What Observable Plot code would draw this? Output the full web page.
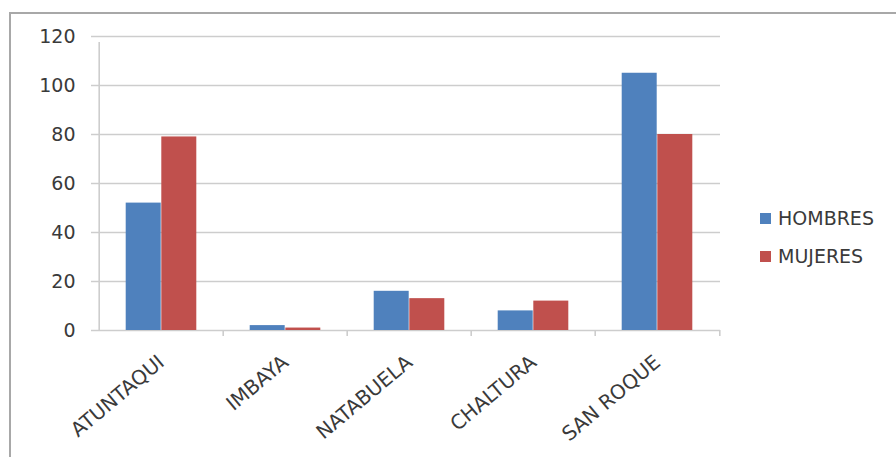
<!DOCTYPE html>
<html>
<head>
<meta charset="utf-8">
<script src="https://cdn.jsdelivr.net/npm/d3@7"></script>
<script src="https://cdn.jsdelivr.net/npm/@observablehq/plot@0.6"></script>
<style>
  body { margin: 0; background: #fff; }
  #wrap { position: relative; width: 896px; height: 457px; overflow: hidden; font-family: "DejaVu Sans", sans-serif; }
  #frame { position: absolute; left: 9px; top: 12px; width: 900px; height: 460px; border-left: 2px solid #a8a8a8; border-top: 2px solid #a8a8a8; }
  #chart { position: absolute; left: 0; top: 0; }
  #chart svg [aria-label^="x-axis"] text, #chart svg [aria-label^="x-axis"] { font-size: 20px; }
  #legend { position: absolute; left: 760px; top: 206px; color: #3a3a3a; font-size: 19px; }
  .item { display: flex; align-items: center; height: 24px; margin-bottom: 14px; }
  .sw { width: 11px; height: 11px; margin-right: 7px; }
</style>
</head>
<body>
<div id="wrap">
  <div id="frame"></div>
  <div id="chart"></div>
  <div id="legend"></div>
</div>
<script>
const categories = ["ATUNTAQUI", "IMBAYA", "NATABUELA", "CHALTURA", "SAN ROQUE"];
const hombres = [52, 2, 16, 8, 105];
const mujeres = [79, 1, 13, 12, 80];
const seriesNames = ["HOMBRES", "MUJERES"];
const seriesColors = ["#4f81bd", "#c0504d"];
const yTicks = [0, 20, 40, 60, 80, 100, 120];

const rows = categories.map((c, i) => ({cat: c, H: hombres[i], M: mujeres[i]}));

const W = 896, H = 457, mL = 97, mR = 176, mT = 36, mB = 127;
const step = (W - mL - mR) / categories.length;
const bw = step / 3.5;          // Excel gap width 150%
const outer = 0.75 * bw;

const gridColor = "#cdcdcd";

const chart = Plot.plot({
  width: W, height: H,
  marginLeft: mL, marginRight: mR, marginTop: mT, marginBottom: mB,
  style: { fontFamily: "DejaVu Sans, sans-serif", fontSize: "19px", color: "#3a3a3a", background: "transparent", overflow: "visible" },
  x: { domain: categories, padding: 0, tickSize: 0, tickPadding: 29, tickRotate: -40, label: null },
  y: { domain: [0, 120], ticks: yTicks, tickSize: 0, tickPadding: 22, label: null },
  marks: [
    Plot.ruleY(yTicks, { y: d => d, stroke: gridColor, strokeWidth: 1.6, insetLeft: -6 }),
    Plot.barY(rows, { x: "cat", y: "H", fill: seriesColors[0], insetLeft: outer, insetRight: step / 2 }),
    Plot.barY(rows, { x: "cat", y: "M", fill: seriesColors[1], insetLeft: step / 2, insetRight: outer }),
    Plot.ruleX([categories[0]], { x: d => d, dx: -step / 2, y1: () => 0, y2: () => 120, insetBottom: -6, stroke: gridColor, strokeWidth: 1.6 }),
    Plot.ruleX(categories.slice(1), { x: d => d, dx: -step / 2, y1: () => 0, y2: () => 0, insetBottom: -6, stroke: gridColor, strokeWidth: 1.6 }),
    Plot.ruleX([categories[categories.length - 1]], { x: d => d, dx: step / 2, y1: () => 0, y2: () => 0, insetBottom: -6, stroke: gridColor, strokeWidth: 1.6 })
  ]
});
document.getElementById("chart").appendChild(chart);

const legend = document.getElementById("legend");
seriesNames.forEach((n, i) => {
  const item = document.createElement("div");
  item.className = "item";
  const sw = document.createElement("div");
  sw.className = "sw";
  sw.style.background = seriesColors[i];
  const t = document.createElement("span");
  t.textContent = n;
  item.appendChild(sw);
  item.appendChild(t);
  legend.appendChild(item);
});
</script>
</body>
</html>
